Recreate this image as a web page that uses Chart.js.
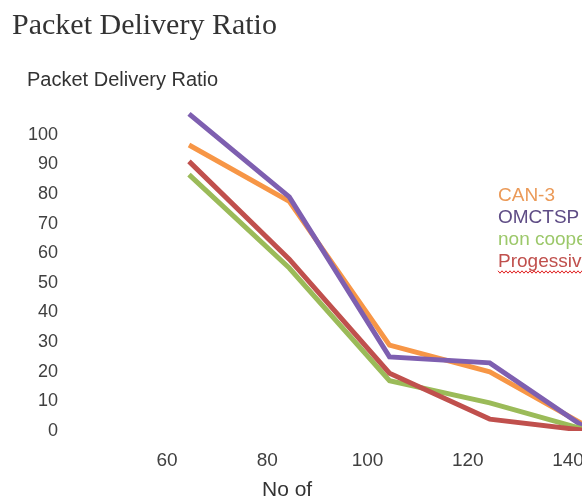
<!DOCTYPE html>
<html>
<head>
<meta charset="utf-8">
<script src="https://cdn.jsdelivr.net/npm/chart.js@4.4.1/dist/chart.umd.min.js"></script>
<style>
  html, body { margin: 0; padding: 0; background: #fff; overflow: hidden; width: 582px; height: 498px; }
  #wrap { position: relative; width: 590px; height: 498px; }
</style>
</head>
<body>
<div id="wrap"><canvas id="c" width="590" height="498"></canvas></div>
<script>
// Number of nodes (x categories)
const nodeCounts = ['60', '80', '100', '120', '140'];

// Packet delivery ratio per protocol
const can3       = [96.5, 77.5, 29, 20, 1];
const omctsp     = [107, 79, 25, 23, 0];
const nonCoop    = [86.5, 55, 17, 9.5, 0];
const progessive = [91, 58, 19.5, 4, 0];

const seriesNames  = ['CAN-3', 'OMCTSP', 'non cooperative', 'Progessive'];
const seriesColors = ['#F79646', '#7E5FB0', '#9BBB59', '#C0504D'];
const labelColors  = ['#EB9A58', '#5E4C85', '#9CC86A', '#C0504D'];

const SANS = '"Liberation Sans", Arial, sans-serif';

// Header line, x-axis caption and in-plot series labels
const captions = {
  id: 'captions',
  afterDraw(chart) {
    const { ctx } = chart;
    ctx.save();
    ctx.textBaseline = 'middle';
    ctx.textAlign = 'left';
    ctx.fillStyle = '#333';
    ctx.font = '20px ' + SANS;
    ctx.fillText('Packet Delivery Ratio', 27, 80);
    ctx.font = '21px ' + SANS;
    ctx.fillText('No of', 262, 490);

    ctx.font = '19px ' + SANS;
    const x0 = 498, y0 = 196, step = 22;
    chart.data.datasets.forEach((ds, i) => {
      ctx.fillStyle = labelColors[i];
      ctx.fillText(ds.label, x0, y0 + i * step);
    });

    // spell-check squiggle under the last label
    const last = chart.data.datasets[chart.data.datasets.length - 1];
    const w = ctx.measureText(last.label).width;
    const yl = y0 + 3 * step + 10;
    ctx.strokeStyle = '#E02020';
    ctx.lineWidth = 1;
    ctx.beginPath();
    for (let x = x0, k = 0; x <= x0 + w; x += 2, k++) {
      const yy = yl + (k % 2 ? 1.2 : -1.2);
      if (k === 0) ctx.moveTo(x, yy); else ctx.lineTo(x, yy);
    }
    ctx.stroke();
    ctx.restore();
  }
};

const seriesData = [can3, omctsp, nonCoop, progessive];

new Chart(document.getElementById('c'), {
  type: 'line',
  data: {
    labels: nodeCounts,
    datasets: seriesData.map((vals, i) => ({
      label: seriesNames[i],
      data: vals,
      borderColor: seriesColors[i],
      backgroundColor: seriesColors[i],
      borderWidth: 5,
      pointRadius: 0,
      tension: 0,
      fill: false,
      order: seriesData.length - i
    }))
  },
  options: {
    responsive: false,
    animation: false,
    layout: { padding: { left: 12, right: 0, top: 0, bottom: 0 } },
    plugins: {
      legend: { display: false },
      tooltip: { enabled: false },
      title: {
        display: true,
        text: 'Packet Delivery Ratio',
        align: 'start',
        color: '#333',
        font: { family: '"Liberation Serif", "Times New Roman", serif', size: 30, weight: 'normal' },
        padding: { top: 8, bottom: 64 }
      }
    },
    scales: {
      x: {
        type: 'category',
        offset: false,
        grid: { display: false, drawTicks: false },
        border: { display: false },
        ticks: {
          color: '#404040',
          font: { family: SANS, size: 19 },
          padding: 18,
          labelOffset: -22,
          maxRotation: 0,
          autoSkip: false
        },
        afterFit(scale) {
          scale.height = 67;
          scale.paddingLeft = 0;
          scale.paddingRight = 0;
        }
      },
      y: {
        min: 0,
        max: 109,
        grid: { display: false, drawTicks: false },
        border: { display: false },
        ticks: {
          stepSize: 10,
          includeBounds: false,
          color: '#404040',
          font: { family: SANS, size: 18 },
          padding: 131
        },
        afterFit(scale) {
          scale.width = 177;
          scale.paddingTop = 0;
          scale.paddingBottom = 0;
        }
      }
    }
  },
  plugins: [captions]
});
</script>
</body>
</html>
